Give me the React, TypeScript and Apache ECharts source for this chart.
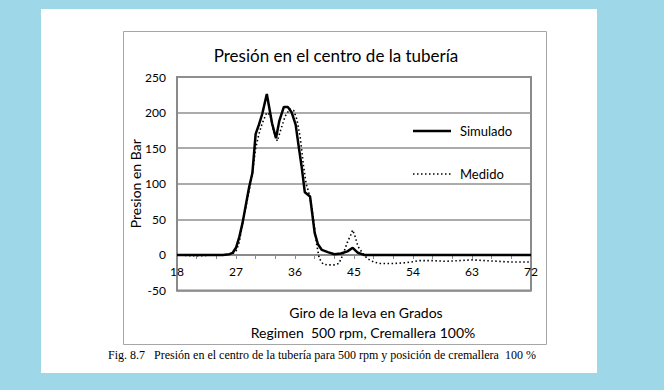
import React, { useEffect, useRef } from "react";
import * as echarts from "echarts";

const titleText = "Presión en el centro de la tubería";
const yAxisTitle = "Presion en Bar";
const xAxisTitle = "Giro de la leva en Grados";
const xAxisSubtitle = "Regimen  500 rpm, Cremallera 100%";
const caption = "Fig. 8.7   Presión en el centro de la tubería para 500 rpm y posición de cremallera  100 %";
const seriesNames = ["Simulado", "Medido"];

const simX = [18, 19, 20, 21, 22, 23, 24, 25, 26, 26.5, 27, 27.5, 28, 28.5, 29, 29.5, 30, 30.5, 31, 31.7, 32.5, 33.1, 33.6, 34.3, 34.9, 35.5, 36.1, 36.6, 37.0, 37.5, 38.3, 38.6, 39.0, 39.5, 40.1, 41, 42, 43, 44, 44.8, 45.6, 46.5, 48, 50, 54, 58, 63, 68, 72];
const simY = [0, 0, 0, 0, 0, 0, 0, 0, 1, 3, 10, 25, 45, 70, 95, 115, 170, 183, 198, 226, 185, 164, 188, 208, 208, 200, 183, 150, 125, 88, 82, 60, 31, 15, 7, 4, 1, 2, 5, 10, 3, 0, 0, 0, 0, 0, 0, 0, 0];

const medX = [18, 20, 22, 24, 25, 26, 26.5, 27, 27.5, 28, 29, 29.5, 30, 30.5, 31, 31.7, 32.2, 32.7, 33.3, 33.8, 34.5, 35.2, 35.8, 36.3, 36.8, 37.3, 37.7, 38.1, 38.5, 38.9, 39.3, 39.7, 40.3, 41, 42, 42.7, 43.3, 44, 44.5, 44.8, 45.2, 45.6, 46.2, 47, 48, 49, 51, 53, 55, 57, 59, 61, 63, 65, 67, 69, 72];
const medY = [0, -1, -1, 0, 0, 1, 2, 5, 18, 45, 90, 115, 150, 170, 185, 200, 197, 175, 160, 175, 195, 205, 203, 190, 165, 125, 100, 88, 70, 45, 15, -5, -13, -14, -14, -12, 0, 18, 28, 35, 25, 12, 4, -5, -10, -12, -12, -11, -8, -8, -9, -8, -7, -8, -9, -10, -10];

const xTicks = { min: 18, max: 72, interval: 9 };
const yTicks = { min: -50, max: 250, interval: 50 };

const FONT = "Lato";
const GRID_LEFT = 177;
const GRID_RIGHT = 133;
const GRID_TOP = 77;
const GRID_BOTTOM = 99.5;

export default function App() {
  const ref = useRef<HTMLDivElement>(null);
  useEffect(() => {
    if (!ref.current) return;
    const chart = echarts.init(ref.current, null, { renderer: "svg" });
    const simData = simX.map((x, i) => [x, simY[i]]);
    const medData = medX.map((x, i) => [x, medY[i]]);
    chart.setOption({
      animation: false,
      backgroundColor: "#9ED8E8",
      graphic: [
        { type: "rect", z: -10, shape: { x: 41, y: 9, width: 556, height: 364 }, style: { fill: "#ffffff" } },
        { type: "rect", z: -9, shape: { x: 123.5, y: 31.5, width: 423, height: 313 }, style: { fill: "#ffffff", stroke: "#a6a6a6", lineWidth: 1 } },
        { type: "text", x: 336, y: 55, style: { text: titleText, font: `17px ${FONT}`, fill: "#000", align: "center", verticalAlign: "middle" } },
        { type: "text", x: 366, y: 312, style: { text: xAxisTitle, font: `14px ${FONT}`, fill: "#000", align: "center", verticalAlign: "middle" } },
        { type: "text", x: 363, y: 332, style: { text: xAxisSubtitle, font: `14px ${FONT}`, fill: "#000", align: "center", verticalAlign: "middle" } },
        { type: "text", x: 322, y: 355, style: { text: caption, font: `12px "Liberation Serif"`, fill: "#000", align: "center", verticalAlign: "middle" } },
        { type: "line", z: 10, shape: { x1: 413, y1: 131, x2: 451, y2: 131 }, style: { stroke: "#000", lineWidth: 2.5 } },
        { type: "text", z: 10, x: 460, y: 131, style: { text: seriesNames[0], font: `13px ${FONT}`, fill: "#000", verticalAlign: "middle" } },
        { type: "line", z: 10, shape: { x1: 413, y1: 174, x2: 451, y2: 174 }, style: { stroke: "#000", lineWidth: 1.6, lineDash: [1.5, 2.5] } },
        { type: "text", z: 10, x: 460, y: 174, style: { text: seriesNames[1], font: `13px ${FONT}`, fill: "#000", verticalAlign: "middle" } },
      ],
      grid: [
        { left: GRID_LEFT, right: GRID_RIGHT, top: GRID_TOP, bottom: GRID_BOTTOM, show: true, borderColor: "#8a8a8a", borderWidth: 2, backgroundColor: "transparent" },
        { left: GRID_LEFT, right: GRID_RIGHT, top: GRID_TOP, bottom: 135, show: false },
      ],
      xAxis: [
        {
          type: "value",
          gridIndex: 0,
          min: xTicks.min,
          max: xTicks.max,
          interval: xTicks.interval,
          axisLine: { show: false },
          axisTick: { show: false },
          axisLabel: { show: false },
          splitLine: { show: false },
        },
        {
          type: "value",
          gridIndex: 1,
          min: xTicks.min,
          max: xTicks.max,
          interval: xTicks.interval,
          axisLine: { show: true, onZero: false, lineStyle: { color: "#8a8a8a", width: 2 } },
          axisTick: { show: true, length: 4, lineStyle: { color: "#8a8a8a" } },
          minorTick: { show: true, splitNumber: 3, length: 4, lineStyle: { color: "#8a8a8a" } },
          axisLabel: { fontFamily: FONT, fontSize: 12, color: "#000", margin: 10 },
          splitLine: { show: false },
        },
      ],
      yAxis: [
        {
          type: "value",
          gridIndex: 0,
          min: yTicks.min,
          max: yTicks.max,
          interval: yTicks.interval,
          name: yAxisTitle,
          nameLocation: "middle",
          nameGap: 35,
          nameMoveOverlap: false,
          nameTextStyle: { fontFamily: FONT, fontSize: 14, color: "#000" },
          axisLine: { show: true, onZero: false, lineStyle: { color: "#8a8a8a", width: 2 } },
          axisTick: { show: false },
          axisLabel: { fontFamily: FONT, fontSize: 12, color: "#000", margin: 11 },
          splitLine: { show: true, lineStyle: { color: "#8f8f8f", width: 1.5 } },
        },
        {
          type: "value",
          gridIndex: 1,
          min: 0,
          max: 1,
          show: false,
        },
      ],
      series: [
        {
          name: seriesNames[0],
          type: "line",
          data: simData,
          symbol: "none",
          lineStyle: { color: "#000", width: 2.5, type: "solid" },
          z: 3,
        },
        {
          name: seriesNames[1],
          type: "line",
          data: medData,
          symbol: "none",
          lineStyle: { color: "#000", width: 1.6, type: [1.5, 2.5] },
          z: 2,
        },
      ],
    });
    return () => chart.dispose();
  }, []);
  return <div ref={ref} style={{ position: "absolute", left: 0, top: 0, width: 664, height: 390 }} />;
}
